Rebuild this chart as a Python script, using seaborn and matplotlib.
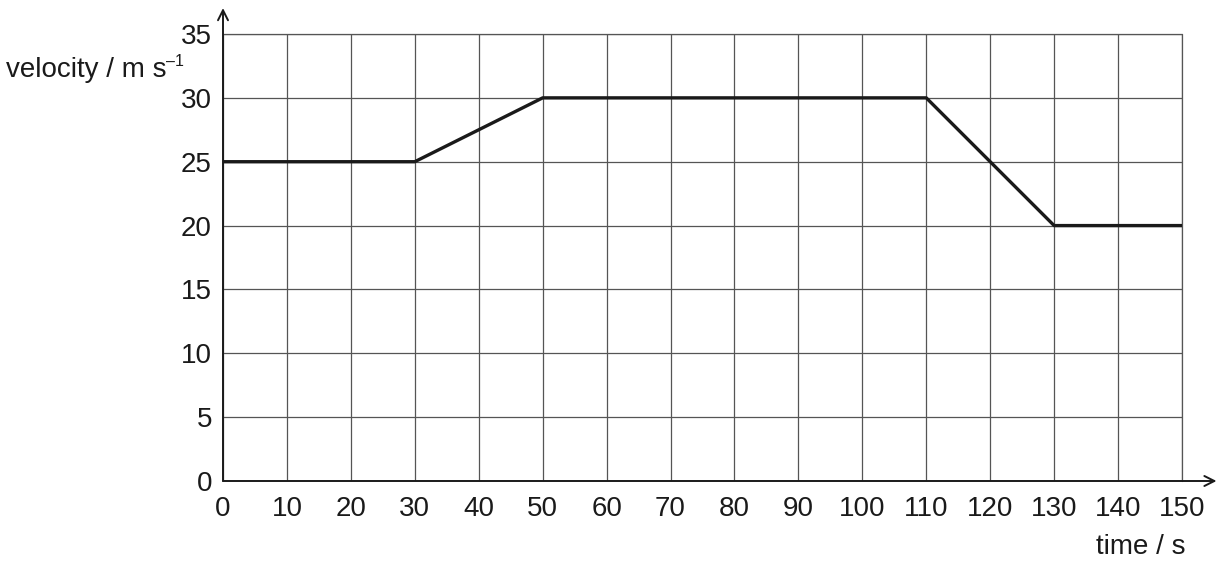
import matplotlib
matplotlib.use("Agg")
import matplotlib.pyplot as plt
import seaborn as sns
import pandas as pd

time_s = [0, 30, 50, 110, 130, 150]
velocity = [25, 25, 30, 30, 20, 20]
x_ticks = list(range(0, 151, 10))
y_ticks = list(range(0, 36, 5))

sns.set_theme(style="white")
plt.rcParams['font.family'] = ['Liberation Sans', 'DejaVu Sans']

FS = 20

fig = plt.figure(figsize=(12.22, 5.61), dpi=100)
ax = fig.add_axes([223/1222, 80/561, (1182-223)/1222, (481-34)/561])

df = pd.DataFrame({"time": time_s, "velocity": velocity})
sns.lineplot(data=df, x="time", y="velocity", ax=ax, color="#1a1a1a",
             linewidth=2.4, zorder=5, sort=False)

ax.set_xlim(0, 150)
ax.set_ylim(0, 35)
ax.set_xticks(x_ticks)
ax.set_yticks(y_ticks)
ax.set_xticklabels([str(v) for v in x_ticks], fontsize=FS, color="#1a1a1a")
ax.set_yticklabels([str(v) for v in y_ticks], fontsize=FS, color="#1a1a1a")
ax.tick_params(axis="x", direction="out", length=9, width=0.9, color="#333333", pad=2)
ax.tick_params(axis="y", direction="out", length=6, width=0.9, color="#333333", pad=2)
ax.grid(True, color="#555555", linewidth=0.9)
for s in ["top", "right", "left", "bottom"]:
    ax.spines[s].set_visible(False)
ax.set_xlabel("")
ax.set_ylabel("")

ax.axvline(150, color="#555555", linewidth=0.9, clip_on=False)
ax.axhline(35, color="#555555", linewidth=0.9, clip_on=False)

ax.annotate("", xy=(1.036, 0), xytext=(0, 0), xycoords="axes fraction",
            arrowprops=dict(arrowstyle="->", color="#1a1a1a", lw=1.4,
                            mutation_scale=18, shrinkA=0, shrinkB=0), annotation_clip=False)
ax.annotate("", xy=(0, 1.058), xytext=(0, 0), xycoords="axes fraction",
            arrowprops=dict(arrowstyle="->", color="#1a1a1a", lw=1.4,
                            mutation_scale=18, shrinkA=0, shrinkB=0), annotation_clip=False)

fig.text(6/1222, 1 - 70/561, "velocity / m s", fontsize=FS, color="#1a1a1a",
         ha="left", va="center")
fig.text(166/1222, 1 - 62/561, "\u20131", fontsize=11.5, color="#1a1a1a",
         ha="left", va="center")
fig.text(1141/1222, 1 - 547/561, "time / s", fontsize=FS, color="#1a1a1a",
         ha="center", va="center")

fig.savefig("out.png", dpi=100)
